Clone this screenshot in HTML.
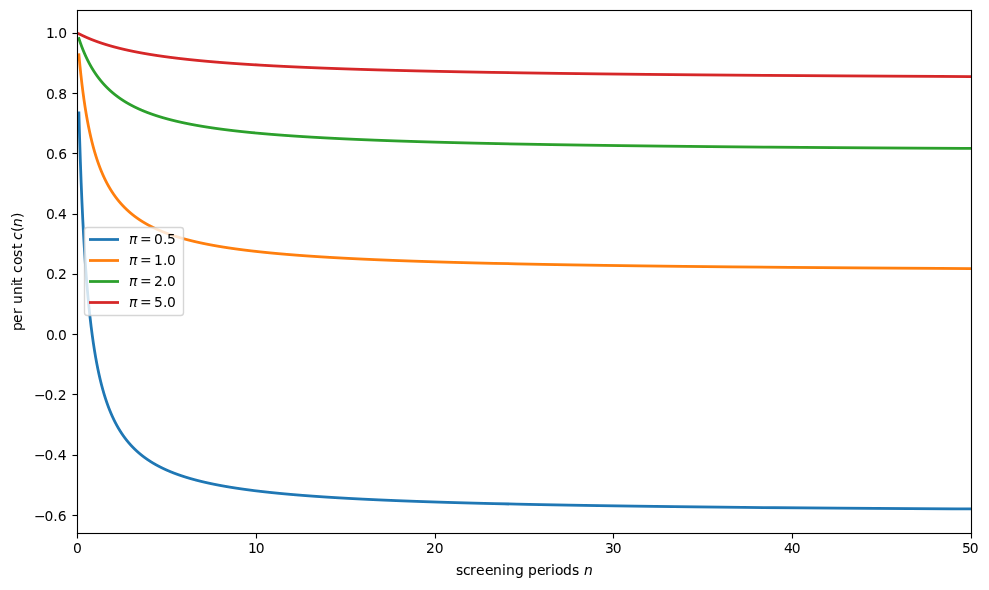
<!DOCTYPE html>
<html lang="en"><head><meta charset="utf-8"><title>per unit cost c(n) vs screening periods n</title>
<style>
html,body{margin:0;padding:0;background:#fff;}
body{width:989px;height:590px;overflow:hidden;}
svg{display:block;}
text{font-family:"DejaVu Sans","Liberation Sans",sans-serif;font-size:13.8889px;fill:#000;white-space:pre;}
.it{font-style:oblique;}
</style></head><body>
<svg width="989" height="590" viewBox="0 0 989 590">
<defs><clipPath id="axclip"><rect x="77" y="10" width="894" height="523"/></clipPath></defs>
<rect x="0" y="0" width="989" height="590" fill="#ffffff"/>
<g clip-path="url(#axclip)">
<path fill="#1f77b4" d="M80.24,111.54 L77.46,111.62 L77.51,113.25 L78.24,138.75 L78.98,161.75 L79.76,182.75 L80.56,202.00 L81.38,219.50 L82.22,235.50 L83.09,250.25 L83.98,264.00 L84.89,276.50 L85.83,288.25 L86.79,299.00 L87.76,309.00 L88.76,318.25 L89.78,327.00 L90.85,335.25 L91.94,343.00 L93.05,350.25 L94.18,357.00 L95.32,363.25 L96.50,369.25 L97.67,374.75 L98.88,380.00 L100.12,385.00 L101.40,389.75 L102.69,394.25 L104.01,398.50 L105.34,402.50 L106.68,406.25 L108.11,410.00 L109.55,413.50 L110.97,416.75 L112.49,420.00 L113.98,423.00 L115.58,426.00 L117.14,428.75 L118.80,431.50 L120.41,434.00 L122.13,436.50 L123.95,439.00 L125.69,441.25 L127.55,443.50 L129.52,445.75 L131.39,447.75 L133.36,449.75 L135.47,451.75 L137.70,453.75 L139.78,455.50 L141.98,457.25 L144.32,459.00 L146.81,460.75 L149.47,462.50 L151.88,464.00 L154.45,465.50 L157.17,467.00 L160.06,468.50 L163.15,470.00 L166.44,471.50 L169.37,472.75 L172.47,474.00 L175.76,475.25 L179.27,476.50 L183.01,477.75 L187.00,479.00 L191.29,480.25 L195.88,481.50 L200.84,482.75 L206.19,484.00 L210.79,485.00 L215.70,486.00 L220.96,487.00 L226.61,488.00 L232.69,489.00 L239.25,490.00 L246.36,491.00 L254.08,492.00 L262.50,493.00 L271.72,494.00 L279.22,494.75 L287.30,495.50 L296.02,496.25 L305.47,497.00 L315.72,497.75 L326.91,498.50 L339.15,499.25 L352.60,500.00 L367.46,500.75 L383.95,501.50 L402.37,502.25 L423.07,503.00 L446.50,503.75 L463.92,504.25 L483.02,504.75 L504.05,505.25 L527.33,505.75 L553.24,506.25 L582.25,506.75 L614.94,507.25 L652.07,507.75 L694.62,508.25 L743.85,508.75 L801.48,509.25 L869.86,509.75 L909.06,510.00 L952.29,510.25 L1000.21,510.50 L1053.63,510.75 L1060.00,508.00 L1005.91,507.75 L957.42,507.50 L913.70,507.25 L838.00,506.75 L774.74,506.25 L721.08,505.75 L675.00,505.25 L635.00,504.75 L599.95,504.25 L568.97,503.75 L541.41,503.25 L516.73,502.75 L494.49,502.25 L474.35,501.75 L456.03,501.25 L439.29,500.75 L416.73,500.00 L396.76,499.25 L378.95,498.50 L362.97,497.75 L348.56,497.00 L335.49,496.25 L323.58,495.50 L312.70,494.75 L302.70,494.00 L293.49,493.25 L284.97,492.50 L277.08,491.75 L267.41,490.75 L258.60,489.75 L250.54,488.75 L243.13,487.75 L236.30,486.75 L229.99,485.75 L224.14,484.75 L218.69,483.75 L213.62,482.75 L208.88,481.75 L204.44,480.75 L199.27,479.50 L194.48,478.25 L190.03,477.00 L185.88,475.75 L182.02,474.50 L178.40,473.25 L175.00,472.00 L171.81,470.75 L168.81,469.50 L165.43,468.00 L162.28,466.50 L159.33,465.00 L156.56,463.50 L153.95,462.00 L151.50,460.50 L149.19,459.00 L146.65,457.25 L144.27,455.50 L142.03,453.75 L139.93,452.00 L137.94,450.25 L135.81,448.25 L133.80,446.25 L131.91,444.25 L130.14,442.25 L128.25,440.00 L126.49,437.75 L124.82,435.50 L123.09,433.00 L121.46,430.50 L119.78,427.75 L118.20,425.00 L116.72,422.25 L115.21,419.25 L113.68,416.00 L112.25,412.75 L110.80,409.25 L109.46,405.75 L108.11,402.00 L106.77,398.00 L105.44,393.75 L104.14,389.25 L102.86,384.50 L101.62,379.50 L100.41,374.25 L99.23,368.75 L98.05,362.75 L96.91,356.50 L95.79,349.75 L94.67,342.50 L93.62,335.00 L92.55,326.75 L91.52,318.00 L90.53,308.75 L89.55,298.75 L88.60,288.00 L87.66,276.25 L86.75,263.75 L85.85,250.00 L84.99,235.25 L84.15,219.25 L83.33,201.75 L82.53,182.50 L81.76,161.50 L81.01,138.50 L80.28,113.00Z"/>
<path fill="#ff7f0e" d="M80.15,53.17 L77.38,53.42 L77.52,55.00 L78.49,65.25 L79.48,74.75 L80.51,83.75 L81.54,92.00 L82.59,99.75 L83.67,107.00 L84.80,114.00 L85.95,120.50 L87.10,126.50 L88.29,132.25 L89.52,137.75 L90.73,142.75 L91.96,147.50 L93.22,152.00 L94.50,156.25 L95.88,160.50 L97.27,164.50 L98.67,168.25 L100.06,171.75 L101.56,175.25 L103.05,178.50 L104.51,181.50 L106.07,184.50 L107.60,187.25 L109.22,190.00 L110.79,192.50 L112.46,195.00 L114.23,197.50 L115.93,199.75 L117.73,202.00 L119.65,204.25 L121.46,206.25 L123.37,208.25 L125.41,210.25 L127.57,212.25 L129.58,214.00 L131.71,215.75 L133.97,217.50 L136.37,219.25 L138.92,221.00 L141.24,222.50 L143.70,224.00 L146.31,225.50 L149.08,227.00 L152.03,228.50 L155.18,230.00 L158.54,231.50 L161.53,232.75 L164.70,234.00 L168.07,235.25 L171.66,236.50 L175.49,237.75 L179.58,239.00 L183.97,240.25 L188.70,241.50 L193.79,242.75 L198.16,243.75 L202.82,244.75 L207.80,245.75 L213.14,246.75 L218.87,247.75 L225.04,248.75 L231.71,249.75 L238.94,250.75 L246.80,251.75 L255.37,252.75 L264.76,253.75 L272.41,254.50 L280.66,255.25 L289.57,256.00 L299.22,256.75 L309.72,257.50 L321.17,258.25 L333.72,259.00 L347.54,259.75 L362.82,260.50 L379.80,261.25 L398.80,262.00 L420.19,262.75 L436.01,263.25 L453.28,263.75 L472.21,264.25 L493.05,264.75 L516.11,265.25 L541.75,265.75 L570.44,266.25 L602.76,266.75 L639.45,267.25 L681.44,267.75 L729.98,268.25 L786.73,268.75 L853.98,269.25 L892.49,269.50 L934.93,269.75 L981.91,270.00 L1034.23,270.25 L1040.46,267.50 L987.50,267.25 L939.96,267.00 L897.05,266.75 L858.13,266.50 L790.21,266.00 L732.93,265.50 L683.98,265.00 L641.66,264.50 L604.72,264.00 L572.18,263.50 L543.30,263.00 L517.50,262.50 L494.31,262.00 L473.36,261.50 L454.33,261.00 L436.98,260.50 L413.63,259.75 L393.00,259.00 L374.64,258.25 L358.19,257.50 L343.38,256.75 L329.97,256.00 L317.76,255.25 L306.61,254.50 L296.39,253.75 L286.97,253.00 L278.28,252.25 L270.22,251.50 L260.36,250.50 L251.39,249.50 L243.18,248.50 L235.65,247.50 L228.71,246.50 L222.29,245.50 L216.35,244.50 L210.83,243.50 L205.68,242.50 L200.87,241.50 L196.38,240.50 L192.15,239.50 L187.23,238.25 L182.66,237.00 L178.41,235.75 L174.45,234.50 L170.74,233.25 L167.27,232.00 L164.01,230.75 L160.94,229.50 L158.05,228.25 L154.79,226.75 L151.75,225.25 L148.89,223.75 L146.21,222.25 L143.69,220.75 L141.32,219.25 L139.07,217.75 L136.61,216.00 L134.29,214.25 L132.12,212.50 L130.07,210.75 L128.13,209.00 L126.05,207.00 L124.10,205.00 L122.25,203.00 L120.31,200.75 L118.48,198.50 L116.76,196.25 L114.97,193.75 L113.29,191.25 L111.71,188.75 L110.08,186.00 L108.55,183.25 L106.99,180.25 L105.53,177.25 L104.04,174.00 L102.66,170.75 L101.26,167.25 L99.86,163.50 L98.47,159.50 L97.18,155.50 L95.90,151.25 L94.64,146.75 L93.40,142.00 L92.20,137.00 L91.02,131.75 L89.83,126.00 L88.68,120.00 L87.54,113.50 L86.44,106.75 L85.36,99.50 L84.31,91.75 L83.27,83.50 L82.25,74.50 L81.26,65.00 L80.29,54.75Z"/>
<path fill="#2ca02c" d="M79.77,36.79 L77.14,37.66 L77.58,39.00 L78.94,43.00 L80.30,46.75 L81.67,50.25 L83.12,53.75 L84.57,57.00 L86.12,60.25 L87.65,63.25 L89.28,66.25 L90.87,69.00 L92.57,71.75 L94.22,74.25 L95.97,76.75 L97.65,79.00 L99.42,81.25 L101.31,83.50 L103.32,85.75 L105.23,87.75 L107.24,89.75 L109.39,91.75 L111.38,93.50 L113.49,95.25 L115.73,97.00 L118.10,98.75 L120.63,100.50 L123.33,102.25 L125.78,103.75 L128.39,105.25 L131.16,106.75 L134.11,108.25 L137.25,109.75 L140.61,111.25 L143.59,112.50 L146.76,113.75 L150.12,115.00 L153.71,116.25 L157.53,117.50 L161.62,118.75 L166.01,120.00 L170.73,121.25 L175.81,122.50 L180.17,123.50 L184.83,124.50 L189.80,125.50 L195.13,126.50 L200.85,127.50 L207.01,128.50 L213.67,129.50 L220.88,130.50 L228.72,131.50 L237.28,132.50 L246.65,133.50 L254.29,134.25 L262.51,135.00 L271.40,135.75 L281.03,136.50 L291.50,137.25 L302.92,138.00 L315.43,138.75 L329.21,139.50 L344.43,140.25 L361.36,141.00 L380.29,141.75 L401.60,142.50 L417.36,143.00 L434.56,143.50 L453.41,144.00 L474.15,144.50 L497.10,145.00 L522.61,145.50 L551.15,146.00 L583.28,146.50 L619.74,147.00 L661.46,147.50 L709.66,148.00 L765.98,148.50 L832.68,149.00 L870.85,149.25 L912.89,149.50 L959.42,149.75 L1011.20,150.00 L1069.17,150.25 L1076.10,147.50 L1017.37,147.25 L964.95,147.00 L917.88,146.75 L875.36,146.50 L836.79,146.25 L769.43,145.75 L712.59,145.25 L663.99,144.75 L621.95,144.25 L585.22,143.75 L552.87,143.25 L524.15,142.75 L498.48,142.25 L475.41,141.75 L454.55,141.25 L435.61,140.75 L418.32,140.25 L395.07,139.50 L374.51,138.75 L356.22,138.00 L339.83,137.25 L325.06,136.50 L311.69,135.75 L299.52,135.00 L288.40,134.25 L278.20,133.50 L268.81,132.75 L260.14,132.00 L252.10,131.25 L242.27,130.25 L233.31,129.25 L225.12,128.25 L217.60,127.25 L210.67,126.25 L204.27,125.25 L198.34,124.25 L192.82,123.25 L187.69,122.25 L182.89,121.25 L178.39,120.25 L173.17,119.00 L168.33,117.75 L163.83,116.50 L159.64,115.25 L155.74,114.00 L152.08,112.75 L148.66,111.50 L145.44,110.25 L142.41,109.00 L139.56,107.75 L136.34,106.25 L133.33,104.75 L130.51,103.25 L127.86,101.75 L125.37,100.25 L123.02,98.75 L120.44,97.00 L118.02,95.25 L115.75,93.50 L113.61,91.75 L111.60,90.00 L109.43,88.00 L107.40,86.00 L105.49,84.00 L103.69,82.00 L101.79,79.75 L100.00,77.50 L98.31,75.25 L96.56,72.75 L94.91,70.25 L93.36,67.75 L91.76,65.00 L90.26,62.25 L88.73,59.25 L87.29,56.25 L85.83,53.00 L84.36,49.50 L82.99,46.00 L81.62,42.25 L80.25,38.25Z"/>
<path fill="#d62728" d="M78.29,31.89 L77.02,34.36 L78.26,35.00 L81.26,36.50 L84.46,38.00 L87.88,39.50 L90.91,40.75 L94.14,42.00 L97.57,43.25 L101.22,44.50 L105.13,45.75 L109.31,47.00 L113.79,48.25 L118.62,49.50 L123.82,50.75 L128.29,51.75 L133.07,52.75 L138.17,53.75 L143.65,54.75 L149.54,55.75 L155.88,56.75 L162.75,57.75 L170.19,58.75 L178.30,59.75 L187.15,60.75 L196.87,61.75 L204.80,62.50 L213.36,63.25 L222.62,64.00 L232.66,64.75 L243.61,65.50 L255.58,66.25 L268.72,67.00 L283.21,67.75 L299.28,68.50 L317.19,69.25 L337.30,70.00 L360.01,70.75 L376.86,71.25 L395.31,71.75 L415.60,72.25 L438.01,72.75 L462.90,73.25 L490.71,73.75 L521.96,74.25 L557.36,74.75 L597.78,75.25 L644.38,75.75 L698.68,76.25 L762.77,76.75 L839.56,77.25 L883.96,77.50 L933.24,77.75 L988.25,78.00 L1050.06,78.25 L1057.47,75.50 L994.82,75.25 L939.10,75.00 L889.23,74.75 L844.32,74.50 L766.71,74.00 L702.00,73.50 L647.21,73.00 L600.23,72.50 L559.50,72.00 L523.85,71.50 L492.38,71.00 L464.41,70.50 L439.37,70.00 L416.83,69.50 L396.43,69.00 L377.89,68.50 L360.95,68.00 L345.43,67.50 L324.42,66.75 L305.75,66.00 L289.03,65.25 L273.99,64.50 L260.38,63.75 L248.01,63.00 L236.71,62.25 L226.35,61.50 L216.82,60.75 L208.02,60.00 L199.88,59.25 L189.91,58.25 L180.84,57.25 L172.55,56.25 L164.95,55.25 L157.94,54.25 L151.47,53.25 L145.48,52.25 L139.91,51.25 L134.73,50.25 L129.88,49.25 L125.35,48.25 L120.08,47.00 L115.20,45.75 L110.66,44.50 L106.45,43.25 L102.51,42.00 L98.83,40.75 L95.38,39.50 L92.14,38.25 L89.10,37.00 L86.22,35.75 L82.99,34.25 L79.96,32.75Z"/>
</g>
<g fill="#000000">
<rect x="76.9445" y="533.5" width="1.1110" height="5.0"/>
<rect x="255.9445" y="533.5" width="1.1110" height="5.0"/>
<rect x="434.9445" y="533.5" width="1.1110" height="5.0"/>
<rect x="612.9445" y="533.5" width="1.1110" height="5.0"/>
<rect x="791.9445" y="533.5" width="1.1110" height="5.0"/>
<rect x="970.9445" y="533.5" width="1.1110" height="5.0"/>
<rect x="72.5" y="32.9445" width="5.0" height="1.1110"/>
<rect x="72.5" y="92.9445" width="5.0" height="1.1110"/>
<rect x="72.5" y="152.9445" width="5.0" height="1.1110"/>
<rect x="72.5" y="213.9445" width="5.0" height="1.1110"/>
<rect x="72.5" y="273.9445" width="5.0" height="1.1110"/>
<rect x="72.5" y="333.9445" width="5.0" height="1.1110"/>
<rect x="72.5" y="393.9445" width="5.0" height="1.1110"/>
<rect x="72.5" y="454.9445" width="5.0" height="1.1110"/>
<rect x="72.5" y="514.9445" width="5.0" height="1.1110"/>
</g>
<g fill="#000000">
<rect x="76.9445" y="9.9445" width="1.1110" height="524.1110"/>
<rect x="970.9445" y="9.9445" width="1.1110" height="524.1110"/>
<rect x="76.9445" y="532.9445" width="895.1110" height="1.1110"/>
<rect x="76.9445" y="9.9445" width="895.1110" height="1.1110"/>
</g>
<g>
<text y="553.00"><tspan x="72.92">0</tspan></text>
<text y="553.00"><tspan x="248.00 255.83">10</tspan></text>
<text y="553.00"><tspan x="426.11 434.69">20</tspan></text>
<text y="553.00"><tspan x="604.89 612.73">30</tspan></text>
<text y="553.00"><tspan x="784.07 791.66">40</tspan></text>
<text y="553.00"><tspan x="961.91 969.75">50</tspan></text>
<text y="38.00"><tspan x="45.96 53.80 58.21">1.0</tspan></text>
<text y="99.00"><tspan x="45.96 53.80 58.21">0.8</tspan></text>
<text y="159.00"><tspan x="45.96 53.80 58.21">0.6</tspan></text>
<text y="219.00"><tspan x="45.96 53.80 57.96">0.4</tspan></text>
<text y="279.00"><tspan x="45.96 53.80 57.96">0.2</tspan></text>
<text y="340.00"><tspan x="46.09 53.67 58.09">0.0</tspan></text>
<text y="400.00"><tspan x="33.92 44.56 53.27 57.69">−0.2</tspan></text>
<text y="460.00"><tspan x="33.92 44.56 53.27 57.69">−0.4</tspan></text>
<text y="521.00"><tspan x="33.92 44.56 53.27 57.69">−0.6</tspan></text>
<text y="575.00" stroke="#000" stroke-width="0.05"><tspan x="455.93 462.92 470.05 475.89 484.93 492.98 501.90 505.89 514.94 523.76 527.92 536.99 545.03 551.12 554.98 562.98 572.04 579.28">screening periods </tspan><tspan class="it" x="583.94">n</tspan></text>
<text transform="translate(22.00 332.04) rotate(-90)" y="0" stroke="#000" stroke-width="0.05"><tspan x="1.00 9.07 17.99 23.70 27.99 37.04 46.09 48.95 54.40 59.06 66.95 74.94 82.93 88.38">per unit cost </tspan><tspan class="it" x="92.04">c</tspan><tspan x="99.93">(</tspan><tspan class="it" x="105.10">n</tspan><tspan x="114.02">)</tspan></text>
</g>
<g>
<rect x="84.50" y="227.50" width="99.00" height="88.00" rx="2.78" ry="2.78" fill="#ffffff" fill-opacity="0.8" stroke="#cccccc" stroke-opacity="0.8" stroke-width="1.389"/>
<line x1="89.00" y1="239.50" x2="119.00" y2="239.50" stroke="#1f77b4" stroke-width="2.778" stroke-linecap="butt"/>
<text y="244.00"><tspan class="it" x="128.89">π</tspan><tspan x="135.54"> </tspan><tspan fill-opacity="0.87" x="139.96">=</tspan><tspan x="149.51 153.93 162.89 166.93"> 0.5</tspan></text>
<line x1="89.00" y1="260.50" x2="119.00" y2="260.50" stroke="#ff7f0e" stroke-width="2.778" stroke-linecap="butt"/>
<text y="265.00"><tspan class="it" x="128.89">π</tspan><tspan x="135.54"> </tspan><tspan fill-opacity="0.87" x="139.96">=</tspan><tspan x="149.51 153.93 162.89 167.05"> 1.0</tspan></text>
<line x1="89.00" y1="281.50" x2="119.00" y2="281.50" stroke="#2ca02c" stroke-width="2.778" stroke-linecap="butt"/>
<text y="286.00"><tspan class="it" x="128.89">π</tspan><tspan x="135.54"> </tspan><tspan fill-opacity="0.87" x="139.96">=</tspan><tspan x="149.51 153.93 162.89 167.05"> 2.0</tspan></text>
<line x1="89.00" y1="302.50" x2="119.00" y2="302.50" stroke="#d62728" stroke-width="2.778" stroke-linecap="butt"/>
<text y="307.00"><tspan class="it" x="128.89">π</tspan><tspan x="135.54"> </tspan><tspan fill-opacity="0.87" x="139.96">=</tspan><tspan x="149.51 153.93 162.89 167.05"> 5.0</tspan></text>
</g>
</svg></body></html>
